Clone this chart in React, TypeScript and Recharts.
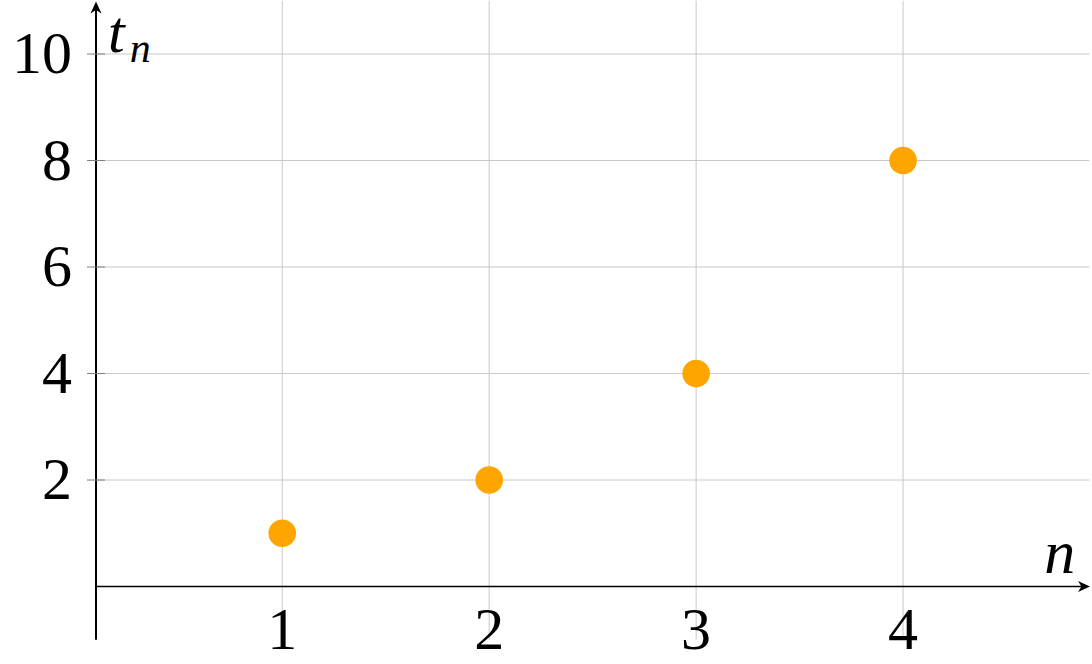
import React from 'react';
import { ScatterChart, Scatter, XAxis, YAxis, CartesianGrid, ReferenceLine } from 'recharts';

const nValues = [1, 2, 3, 4];
const tValues = [1, 2, 4, 8];
const xTicks = [1, 2, 3, 4];
const yTicks = [2, 4, 6, 8, 10];
const xDomain: [number, number] = [0.1, 4.9];
const yDomain: [number, number] = [-1, 11];
const xLabel = 'n';
const yLabelMain = 't';
const yLabelSub = 'n';

const data = nValues.map((n, i) => ({ n, t: tValues[i] }));

const FONT = '"Liberation Serif", "DejaVu Serif", serif';
const GRID = '#c8c8c8';
const TICK = '#808080';

const XTick = (props: any) => {
  const { x, y, payload } = props;
  return (
    <text x={x} y={y + 9} textAnchor="middle" fontFamily={FONT} fontSize={60} fill="#000">
      {payload.value}
    </text>
  );
};

const YTick = (props: any) => {
  const { x, y, payload } = props;
  return (
    <g>
      <line x1={x - 9} y1={y} x2={x + 9} y2={y} stroke={TICK} strokeWidth={1} />
      <text x={x - 24} y={y + 19} textAnchor="end" fontFamily={FONT} fontSize={60} fill="#000">
        {payload.value}
      </text>
    </g>
  );
};

const XAxisArrow = (props: any) => {
  const { x1, y1, x2 } = props;
  const xs = Math.min(x1, x2);
  const xe = Math.max(x1, x2) + 0.7;
  const y = y1;
  return (
    <g>
      <line x1={xs} y1={y} x2={xe - 5} y2={y} stroke="#000" strokeWidth={1.4} />
      <path d={`M${xe},${y} L${xe - 12},${y - 5.5} L${xe - 8.5},${y} L${xe - 12},${y + 5.5} Z`} fill="#000" />
    </g>
  );
};

const YAxisArrow = (props: any) => {
  const { x1, y1, y2 } = props;
  const ys = Math.min(y1, y2) + 0.8;
  const ye = Math.max(y1, y2);
  const x = x1;
  return (
    <g>
      <line x1={x} y1={ye} x2={x} y2={ys + 5} stroke="#000" strokeWidth={2} />
      <path d={`M${x},${ys} L${x - 5.5},${ys + 12} L${x},${ys + 8.5} L${x + 5.5},${ys + 12} Z`} fill="#000" />
    </g>
  );
};

const XAxisLabel = (props: any) => {
  const vb = props.viewBox || {};
  return (
    <text
      x={vb.x + vb.width - 14}
      y={vb.y - 14}
      textAnchor="end"
      fontFamily={FONT}
      fontStyle="italic"
      fontSize={62}
      fill="#000"
    >
      {xLabel}
    </text>
  );
};

const YAxisLabel = (props: any) => {
  const vb = props.viewBox || {};
  return (
    <text x={vb.x + 12} y={vb.y + 51} fontFamily={FONT} fontStyle="italic" fontSize={60} fill="#000">
      <tspan>{yLabelMain}</tspan>
      <tspan fontSize={42} dy={10} dx={5}>{yLabelSub}</tspan>
    </text>
  );
};

const Dot = (props: any) => {
  const { cx, cy } = props;
  return <circle cx={cx} cy={cy} r={13.8} fill="#FFA500" />;
};

const hGen = (p: any) => {
  const s = p && p.yAxis && p.yAxis.scale;
  if (typeof s === 'function') return yTicks.map((v) => s(v));
  const o = p.offset;
  return yTicks.map((v) => o.top + ((yDomain[1] - v) / (yDomain[1] - yDomain[0])) * o.height);
};
const vGen = (p: any) => {
  const s = p && p.xAxis && p.xAxis.scale;
  if (typeof s === 'function') return xTicks.map((v) => s(v));
  const o = p.offset;
  return xTicks.map((v) => o.left + ((v - xDomain[0]) / (xDomain[1] - xDomain[0])) * o.width);
};

export default function App() {
  return (
    <div style={{ position: 'absolute', left: 0, top: 0, width: 1092, height: 664, background: '#fff' }}>
      <ScatterChart width={1092} height={664} margin={{ top: 0.75, right: 2.7, bottom: 0, left: 0 }}>
        <CartesianGrid
          stroke={GRID}
          strokeWidth={1}
          horizontalCoordinatesGenerator={hGen}
          verticalCoordinatesGenerator={vGen}
        />
        <XAxis
          type="number"
          dataKey="n"
          domain={xDomain}
          ticks={xTicks}
          allowDataOverflow
          axisLine={false}
          tickLine={false}
          tickSize={0}
          tickMargin={0}
          height={24.25}
          tick={<XTick />}
          interval={0}
        />
        <YAxis
          type="number"
          dataKey="t"
          domain={yDomain}
          ticks={yTicks}
          allowDataOverflow
          axisLine={false}
          tickLine={false}
          tickSize={0}
          tickMargin={0}
          width={96}
          tick={<YTick />}
          interval={0}
        />
        <ReferenceLine y={0} ifOverflow="visible" shape={<XAxisArrow />} label={<XAxisLabel />} />
        <ReferenceLine x={xDomain[0]} ifOverflow="visible" shape={<YAxisArrow />} label={<YAxisLabel />} />
        <Scatter data={data} isAnimationActive={false} shape={<Dot />} />
      </ScatterChart>
    </div>
  );
}
